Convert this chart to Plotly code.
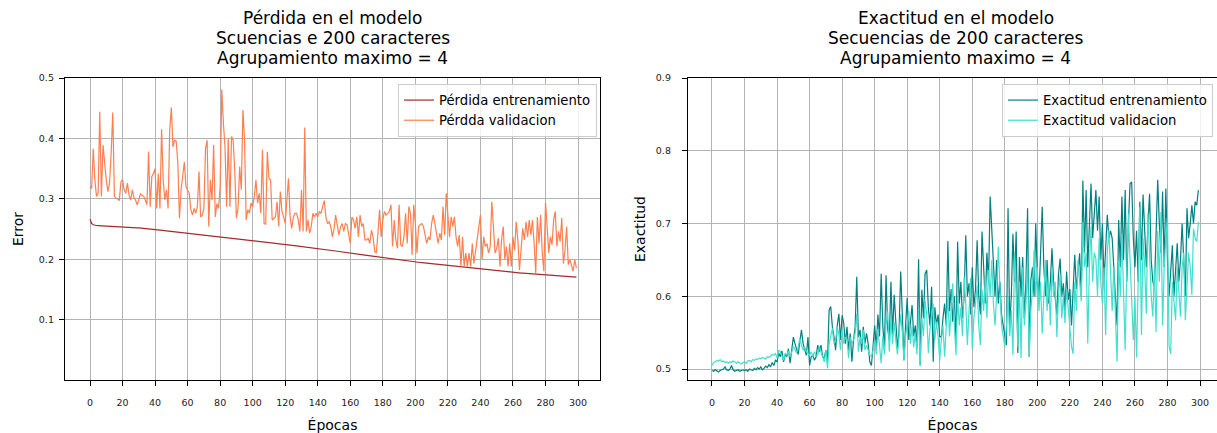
import plotly.graph_objects as go

# ---- data ---------------------------------------------------------------
epochs = list(range(300))

train_loss = [
    0.2660, 0.2590, 0.2570, 0.2560, 0.2558, 0.2556, 0.2555, 0.2554, 0.2553, 0.2552,
    0.2551, 0.2550, 0.2549, 0.2548, 0.2547, 0.2546, 0.2545, 0.2544, 0.2543, 0.2541,
    0.2540, 0.2538, 0.2536, 0.2534, 0.2532, 0.2530, 0.2527, 0.2525, 0.2522, 0.2520,
    0.2517, 0.2515, 0.2512, 0.2510, 0.2507, 0.2505, 0.2502, 0.2500, 0.2497, 0.2494,
    0.2491, 0.2488, 0.2485, 0.2482, 0.2479, 0.2476, 0.2473, 0.2470, 0.2467, 0.2464,
    0.2461, 0.2458, 0.2455, 0.2452, 0.2449, 0.2446, 0.2443, 0.2440, 0.2437, 0.2434,
    0.2431, 0.2428, 0.2425, 0.2422, 0.2419, 0.2416, 0.2413, 0.2410, 0.2407, 0.2404,
    0.2400, 0.2397, 0.2394, 0.2391, 0.2388, 0.2385, 0.2382, 0.2379, 0.2376, 0.2373,
    0.2370, 0.2367, 0.2364, 0.2361, 0.2358, 0.2355, 0.2352, 0.2349, 0.2346, 0.2343,
    0.2340, 0.2337, 0.2334, 0.2331, 0.2328, 0.2325, 0.2322, 0.2319, 0.2316, 0.2313,
    0.2310, 0.2307, 0.2304, 0.2300, 0.2297, 0.2294, 0.2290, 0.2287, 0.2284, 0.2280,
    0.2277, 0.2274, 0.2270, 0.2267, 0.2264, 0.2260, 0.2257, 0.2254, 0.2250, 0.2247,
    0.2244, 0.2240, 0.2237, 0.2234, 0.2230, 0.2227, 0.2223, 0.2220, 0.2216, 0.2213,
    0.2209, 0.2206, 0.2202, 0.2199, 0.2195, 0.2192, 0.2188, 0.2185, 0.2181, 0.2178,
    0.2174, 0.2171, 0.2167, 0.2164, 0.2160, 0.2157, 0.2153, 0.2150, 0.2146, 0.2143,
    0.2139, 0.2136, 0.2132, 0.2129, 0.2125, 0.2122, 0.2118, 0.2115, 0.2111, 0.2108,
    0.2104, 0.2100, 0.2096, 0.2092, 0.2088, 0.2084, 0.2080, 0.2076, 0.2072, 0.2068,
    0.2064, 0.2060, 0.2056, 0.2052, 0.2048, 0.2044, 0.2040, 0.2036, 0.2032, 0.2028,
    0.2024, 0.2020, 0.2017, 0.2013, 0.2010, 0.2006, 0.2003, 0.1999, 0.1996, 0.1992,
    0.1989, 0.1985, 0.1982, 0.1978, 0.1975, 0.1971, 0.1968, 0.1964, 0.1961, 0.1957,
    0.1954, 0.1951, 0.1948, 0.1945, 0.1942, 0.1939, 0.1936, 0.1933, 0.1930, 0.1927,
    0.1924, 0.1921, 0.1918, 0.1915, 0.1912, 0.1909, 0.1906, 0.1903, 0.1900, 0.1897,
    0.1894, 0.1891, 0.1889, 0.1886, 0.1884, 0.1881, 0.1879, 0.1876, 0.1874, 0.1871,
    0.1868, 0.1866, 0.1863, 0.1860, 0.1858, 0.1855, 0.1852, 0.1850, 0.1847, 0.1844,
    0.1841, 0.1838, 0.1835, 0.1832, 0.1829, 0.1826, 0.1823, 0.1820, 0.1817, 0.1814,
    0.1811, 0.1808, 0.1805, 0.1802, 0.1799, 0.1796, 0.1793, 0.1790, 0.1787, 0.1784,
    0.1781, 0.1779, 0.1777, 0.1775, 0.1773, 0.1771, 0.1769, 0.1767, 0.1765, 0.1763,
    0.1761, 0.1759, 0.1757, 0.1755, 0.1753, 0.1751, 0.1749, 0.1747, 0.1745, 0.1743,
    0.1741, 0.1739, 0.1737, 0.1735, 0.1733, 0.1731, 0.1729, 0.1727, 0.1725, 0.1723,
    0.1721, 0.1719, 0.1717, 0.1715, 0.1713, 0.1711, 0.1709, 0.1707, 0.1705, 0.1703,
]

val_loss = [
    0.320, 0.317, 0.383, 0.331, 0.304, 0.309, 0.444, 0.304, 0.389, 0.353,
    0.331, 0.312, 0.326, 0.375, 0.443, 0.304, 0.301, 0.300, 0.297, 0.328,
    0.332, 0.315, 0.309, 0.326, 0.306, 0.298, 0.315, 0.302, 0.298, 0.290,
    0.301, 0.308, 0.306, 0.304, 0.298, 0.290, 0.378, 0.287, 0.337, 0.342,
    0.350, 0.284, 0.342, 0.284, 0.415, 0.331, 0.298, 0.315, 0.284, 0.414,
    0.451, 0.386, 0.397, 0.395, 0.359, 0.268, 0.315, 0.337, 0.361, 0.320,
    0.315, 0.309, 0.282, 0.273, 0.284, 0.276, 0.287, 0.345, 0.270, 0.273,
    0.284, 0.383, 0.397, 0.254, 0.331, 0.298, 0.389, 0.270, 0.292, 0.284,
    0.320, 0.481, 0.425, 0.386, 0.287, 0.400, 0.287, 0.403, 0.397, 0.345,
    0.268, 0.284, 0.353, 0.315, 0.447, 0.397, 0.265, 0.282, 0.276, 0.293,
    0.287, 0.304, 0.331, 0.293, 0.309, 0.276, 0.381, 0.259, 0.258, 0.378,
    0.334, 0.331, 0.265, 0.268, 0.270, 0.295, 0.254, 0.312, 0.279, 0.270,
    0.259, 0.298, 0.334, 0.270, 0.251, 0.270, 0.276, 0.276, 0.265, 0.246,
    0.315, 0.246, 0.418, 0.246, 0.265, 0.243, 0.254, 0.276, 0.270, 0.276,
    0.270, 0.279, 0.276, 0.287, 0.297, 0.270, 0.259, 0.262, 0.254, 0.237,
    0.251, 0.273, 0.259, 0.240, 0.254, 0.259, 0.246, 0.259, 0.257, 0.243,
    0.226, 0.270, 0.265, 0.251, 0.270, 0.237, 0.273, 0.254, 0.259, 0.232,
    0.232, 0.235, 0.226, 0.248, 0.237, 0.213, 0.210, 0.243, 0.282, 0.237,
    0.265, 0.279, 0.273, 0.276, 0.279, 0.290, 0.221, 0.265, 0.232, 0.218,
    0.290, 0.224, 0.221, 0.237, 0.276, 0.226, 0.287, 0.276, 0.207, 0.290,
    0.259, 0.210, 0.254, 0.257, 0.259, 0.254, 0.237, 0.226, 0.237, 0.232,
    0.259, 0.273, 0.259, 0.240, 0.226, 0.243, 0.232, 0.287, 0.240, 0.309,
    0.270, 0.237, 0.270, 0.254, 0.270, 0.237, 0.221, 0.240, 0.188, 0.237,
    0.188, 0.210, 0.188, 0.210, 0.188, 0.226, 0.193, 0.215, 0.237, 0.254,
    0.273, 0.199, 0.237, 0.221, 0.226, 0.210, 0.221, 0.295, 0.243, 0.210,
    0.218, 0.235, 0.188, 0.232, 0.254, 0.199, 0.221, 0.188, 0.226, 0.188,
    0.237, 0.215, 0.262, 0.232, 0.182, 0.215, 0.251, 0.232, 0.262, 0.237,
    0.265, 0.240, 0.265, 0.226, 0.177, 0.270, 0.226, 0.273, 0.210, 0.180,
    0.294, 0.254, 0.210, 0.237, 0.224, 0.265, 0.279, 0.221, 0.246, 0.229,
    0.268, 0.193, 0.215, 0.254, 0.191, 0.199, 0.191, 0.180, 0.199, 0.185,
]

train_acc = [
    0.498, 0.497, 0.499, 0.498, 0.496, 0.498, 0.499, 0.500, 0.503, 0.499,
    0.498, 0.500, 0.505, 0.499, 0.497, 0.498, 0.499, 0.497, 0.498, 0.499,
    0.498, 0.499, 0.497, 0.500, 0.499, 0.498, 0.501, 0.499, 0.502, 0.500,
    0.503, 0.499, 0.501, 0.504, 0.502, 0.506, 0.503, 0.509, 0.505, 0.512,
    0.510, 0.522, 0.517, 0.525, 0.510, 0.520, 0.517, 0.528, 0.508, 0.530,
    0.544, 0.535, 0.526, 0.520, 0.538, 0.554, 0.535, 0.525, 0.519, 0.544,
    0.505, 0.517, 0.519, 0.512, 0.517, 0.533, 0.524, 0.533, 0.517, 0.515,
    0.526, 0.510, 0.581, 0.586, 0.558, 0.544, 0.526, 0.560, 0.576, 0.540,
    0.574, 0.563, 0.535, 0.558, 0.526, 0.549, 0.510, 0.540, 0.558, 0.627,
    0.544, 0.554, 0.524, 0.558, 0.535, 0.549, 0.535, 0.510, 0.505, 0.531,
    0.560, 0.530, 0.575, 0.545, 0.631, 0.560, 0.526, 0.629, 0.555, 0.540,
    0.620, 0.548, 0.602, 0.565, 0.528, 0.552, 0.634, 0.575, 0.512, 0.560,
    0.598, 0.540, 0.568, 0.588, 0.545, 0.560, 0.530, 0.651, 0.505, 0.609,
    0.570, 0.631, 0.636, 0.585, 0.560, 0.613, 0.510, 0.585, 0.560, 0.575,
    0.545, 0.544, 0.570, 0.590, 0.560, 0.676, 0.580, 0.610, 0.565, 0.600,
    0.535, 0.675, 0.590, 0.620, 0.570, 0.600, 0.684, 0.600, 0.618, 0.575,
    0.640, 0.585, 0.610, 0.677, 0.600, 0.575, 0.689, 0.640, 0.590, 0.660,
    0.620, 0.737, 0.690, 0.640, 0.600, 0.650, 0.590, 0.620, 0.575, 0.560,
    0.545, 0.533, 0.721, 0.558, 0.600, 0.686, 0.620, 0.689, 0.522, 0.654,
    0.600, 0.654, 0.570, 0.620, 0.721, 0.517, 0.622, 0.640, 0.600, 0.700,
    0.630, 0.600, 0.660, 0.723, 0.640, 0.600, 0.650, 0.590, 0.620, 0.666,
    0.620, 0.600, 0.575, 0.630, 0.652, 0.600, 0.618, 0.580, 0.634, 0.595,
    0.610, 0.560, 0.600, 0.657, 0.610, 0.640, 0.659, 0.600, 0.759, 0.660,
    0.746, 0.640, 0.700, 0.755, 0.680, 0.720, 0.746, 0.690, 0.737, 0.650,
    0.700, 0.620, 0.660, 0.712, 0.680, 0.690, 0.680, 0.640, 0.600, 0.560,
    0.705, 0.640, 0.737, 0.650, 0.746, 0.620, 0.700, 0.755, 0.757, 0.680,
    0.640, 0.690, 0.620, 0.730, 0.650, 0.740, 0.690, 0.640, 0.700, 0.741,
    0.650, 0.620, 0.613, 0.690, 0.760, 0.700, 0.660, 0.744, 0.640, 0.748,
    0.650, 0.600, 0.640, 0.670, 0.600, 0.640, 0.673, 0.620, 0.650, 0.700,
    0.640, 0.600, 0.721, 0.680, 0.700, 0.725, 0.700, 0.730, 0.725, 0.746,
]

val_acc = [
    0.505, 0.509, 0.510, 0.512, 0.511, 0.513, 0.510, 0.511, 0.509, 0.510,
    0.508, 0.510, 0.509, 0.511, 0.510, 0.508, 0.510, 0.509, 0.507, 0.509,
    0.510, 0.508, 0.511, 0.512, 0.510, 0.513, 0.512, 0.514, 0.513, 0.515,
    0.514, 0.516, 0.515, 0.514, 0.517, 0.516, 0.518, 0.520, 0.519, 0.522,
    0.515, 0.526, 0.524, 0.518, 0.512, 0.522, 0.519, 0.525, 0.517, 0.523,
    0.531, 0.527, 0.522, 0.530, 0.542, 0.533, 0.526, 0.530, 0.524, 0.521,
    0.519, 0.524, 0.517, 0.524, 0.519, 0.519, 0.531, 0.524, 0.517, 0.510,
    0.526, 0.501, 0.535, 0.544, 0.556, 0.535, 0.540, 0.558, 0.547, 0.526,
    0.554, 0.535, 0.544, 0.540, 0.515, 0.544, 0.535, 0.540, 0.549, 0.576,
    0.524, 0.544, 0.535, 0.554, 0.526, 0.533, 0.524, 0.519, 0.517, 0.526,
    0.540, 0.520, 0.555, 0.530, 0.508, 0.545, 0.520, 0.560, 0.579, 0.524,
    0.570, 0.535, 0.565, 0.540, 0.520, 0.545, 0.575, 0.550, 0.512, 0.545,
    0.560, 0.580, 0.535, 0.560, 0.530, 0.550, 0.520, 0.585, 0.505, 0.570,
    0.545, 0.595, 0.575, 0.522, 0.555, 0.570, 0.590, 0.540, 0.565, 0.545,
    0.512, 0.540, 0.560, 0.517, 0.555, 0.600, 0.545, 0.580, 0.618, 0.560,
    0.519, 0.600, 0.560, 0.585, 0.545, 0.627, 0.590, 0.533, 0.575, 0.625,
    0.528, 0.570, 0.590, 0.615, 0.560, 0.533, 0.610, 0.580, 0.625, 0.570,
    0.636, 0.600, 0.650, 0.590, 0.560, 0.600, 0.668, 0.610, 0.560, 0.545,
    0.531, 0.560, 0.600, 0.545, 0.580, 0.519, 0.659, 0.600, 0.530, 0.620,
    0.515, 0.640, 0.560, 0.590, 0.650, 0.517, 0.580, 0.610, 0.664, 0.600,
    0.640, 0.580, 0.620, 0.549, 0.600, 0.650, 0.580, 0.620, 0.560, 0.640,
    0.600, 0.620, 0.544, 0.600, 0.630, 0.570, 0.600, 0.563, 0.610, 0.580,
    0.560, 0.531, 0.521, 0.620, 0.580, 0.650, 0.620, 0.593, 0.702, 0.640,
    0.660, 0.535, 0.640, 0.696, 0.620, 0.660, 0.652, 0.600, 0.680, 0.620,
    0.590, 0.640, 0.547, 0.660, 0.691, 0.620, 0.580, 0.640, 0.560, 0.510,
    0.650, 0.600, 0.686, 0.600, 0.526, 0.640, 0.714, 0.650, 0.600, 0.540,
    0.600, 0.516, 0.620, 0.723, 0.547, 0.680, 0.640, 0.576, 0.714, 0.650,
    0.600, 0.572, 0.640, 0.551, 0.690, 0.620, 0.716, 0.560, 0.640, 0.680,
    0.709, 0.531, 0.521, 0.620, 0.590, 0.567, 0.640, 0.600, 0.572, 0.640,
    0.660, 0.567, 0.620, 0.660, 0.640, 0.602, 0.693, 0.680, 0.675, 0.702,
]

x_ticks = list(range(0, 301, 20))
loss_ticks = [0.1, 0.2, 0.3, 0.4, 0.5]
acc_ticks = [0.5, 0.6, 0.7, 0.8, 0.9]

loss_title = ["Pérdida en el modelo", "Scuencias e 200 caracteres", "Agrupamiento maximo = 4"]
acc_title = ["Exactitud en el modelo", "Secuencias de 200 caracteres", "Agrupamiento maximo = 4"]

# ---- figure -------------------------------------------------------------
W, H = 1217, 433
M_T, M_B = 78, 53
FONT = "DejaVu Sans"

fig = go.Figure()

fig.add_trace(go.Scatter(x=epochs, y=train_loss, mode="lines", name="Pérdida entrenamiento",
                         line=dict(color="#a52a2a", width=1.2), xaxis="x", yaxis="y", legend="legend"))
fig.add_trace(go.Scatter(x=epochs, y=val_loss, mode="lines", name="Pérdda validacion",
                         line=dict(color="#ff7f50", width=1.2), xaxis="x", yaxis="y", legend="legend"))
fig.add_trace(go.Scatter(x=epochs, y=train_acc, mode="lines", name="Exactitud entrenamiento",
                         line=dict(color="#008080", width=1.2), xaxis="x2", yaxis="y2", legend="legend2"))
fig.add_trace(go.Scatter(x=epochs, y=val_acc, mode="lines", name="Exactitud validacion",
                         line=dict(color="#40e0d0", width=1.2), xaxis="x2", yaxis="y2", legend="legend2"))

axis_common = dict(
    showgrid=True, gridcolor="#b3b3b3", gridwidth=1.3,
    showline=True, linecolor="black", linewidth=1.3,
    ticks="outside", ticklen=5, tickwidth=1.1, tickcolor="black",
    tickfont=dict(family=FONT, size=9.5, color="#222"),
    zeroline=False,
)

left_dom = [65 / W, 600 / W]
right_dom = [688 / W, 1.0]
label_font = dict(family=FONT, size=14)
legend_font = dict(family=FONT, size=13.2)

fig.update_layout(
    width=W, height=H,
    margin=dict(l=0, r=0, t=M_T, b=M_B),
    paper_bgcolor="white", plot_bgcolor="white",
    font=dict(family=FONT, color="black"),
    xaxis=dict(domain=left_dom, range=[-15.37, 313.5], tickvals=x_ticks, mirror=True,
               ticklabelstandoff=8,
               title=dict(text="Épocas", font=label_font, standoff=14), anchor="y", **axis_common),
    yaxis=dict(domain=[0, 1], range=[0.0, 0.5], tickvals=loss_ticks, tickformat=".1f", mirror=True,
               ticklabelstandoff=3,
               title=dict(text="Error", font=label_font, standoff=11), anchor="x", **axis_common),
    xaxis2=dict(domain=right_dom, range=[-14.75, 310.45], tickvals=x_ticks, mirror=True,
                ticklabelstandoff=8,
                title=dict(text="Épocas", font=label_font, standoff=14), anchor="y2", **axis_common),
    yaxis2=dict(domain=[0, 1], range=[0.485, 0.9], tickvals=acc_ticks, tickformat=".1f",
                ticklabelstandoff=9,
                title=dict(text="Exactitud", font=label_font, standoff=6), anchor="x2", **axis_common),
    legend=dict(x=597 / W, y=(H - M_B - 84) / (H - M_T - M_B), xanchor="right", yanchor="top",
                bgcolor="rgba(255,255,255,0.8)", bordercolor="#cccccc", borderwidth=1,
                font=legend_font, tracegroupgap=0, itemwidth=30),
    legend2=dict(x=1213 / W, y=(H - M_B - 84) / (H - M_T - M_B), xanchor="right", yanchor="top",
                 bgcolor="rgba(255,255,255,0.8)", bordercolor="#cccccc", borderwidth=1,
                 font=legend_font, tracegroupgap=0, itemwidth=30),
    showlegend=True,
)

# three-line titles, one annotation per line
plot_h = H - M_T - M_B
line_y = [18, 38, 58]
for cx, lines in ((332.5 / W, loss_title), (955.5 / W, acc_title)):
    for text, py in zip(lines, line_y):
        fig.add_annotation(text=text, x=cx, y=(H - M_B - py) / plot_h, xref="paper", yref="paper",
                           xanchor="center", yanchor="middle", showarrow=False,
                           font=dict(family=FONT, size=17, color="black"))

fig.write_html("out.html")
